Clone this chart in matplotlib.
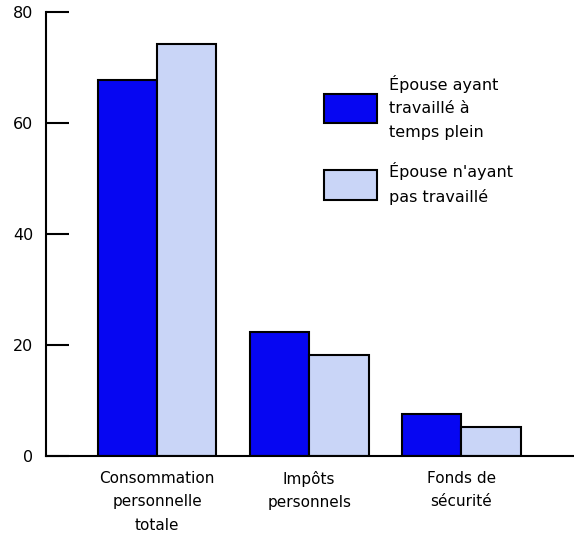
import numpy as np
import matplotlib
matplotlib.use("Agg")
import matplotlib.pyplot as plt

plt.rcParams["font.family"] = ["DejaVu Sans"]

categories = ["Consommation\npersonnelle\ntotale", "Impôts\npersonnels", "Fonds de\nsécurité"]
plein_temps = [67.7, 22.3, 7.6]
sans_travail = [74.2, 18.2, 5.2]
series_labels = ["Épouse ayant\ntravaillé à\ntemps plein", "Épouse n'ayant\npas travaillé"]

fig = plt.figure(figsize=(5.74, 5.35), dpi=100)
ax = fig.add_axes([0.080, 0.148, 0.92, 0.830])

x = np.arange(len(categories))
w = 0.39
ax.bar(x - w / 2, plein_temps, w, color="#0606f2", edgecolor="black", linewidth=1.5,
       label=series_labels[0])
ax.bar(x + w / 2, sans_travail, w, color="#c9d5f7", edgecolor="black", linewidth=1.5,
       label=series_labels[1])

ax.set_xlim(-0.73, 2.74)
ax.set_ylim(0, 80)
ax.set_yticks([0, 20, 40, 60, 80])
ax.tick_params(axis="y", direction="in", length=16.5, width=1.5, pad=9, labelsize=11.5)
ax.set_xticks(x)
ax.set_xticklabels(categories, fontsize=11, linespacing=1.7, va="top")
ax.tick_params(axis="x", length=0, pad=11)

for s in ("top", "right"):
    ax.spines[s].set_visible(False)
ax.spines["left"].set_linewidth(1.5)
ax.spines["bottom"].set_linewidth(1.5)

leg = ax.legend(loc="upper left", bbox_to_anchor=(0.50, 0.89), frameon=False,
                fontsize=11.5, handlelength=3.3, handleheight=2.5, handletextpad=0.75,
                labelspacing=1.4)
for t in leg.get_texts():
    t.set_linespacing(1.7)

fig.savefig("out.png", dpi=100)
